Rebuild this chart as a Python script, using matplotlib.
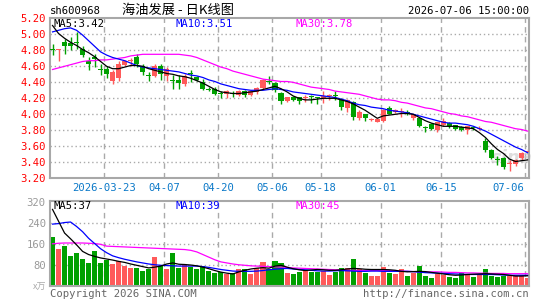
import matplotlib
matplotlib.use("Agg")
import matplotlib.pyplot as plt

# daily K-line data, 2026-03-10 .. 2026-07-06 (80 trading days)
opens = [4.80, 4.79, 4.89, 4.88, 4.89, 4.81, 4.66, 4.71, 4.55, 4.56,
         4.41, 4.45, 4.61, 4.655, 4.71, 4.59, 4.48, 4.475, 4.60, 4.475,
         4.41, 4.42, 4.37, 4.51, 4.46, 4.39, 4.30, 4.30, 4.245, 4.24,
         4.255, 4.23, 4.28, 4.23, 4.27, 4.32, 4.40, 4.38, 4.26, 4.16,
         4.21, 4.20, 4.195, 4.21, 4.20, 4.19, 4.215, 4.23, 4.17, 4.07,
         4.14, 3.94, 3.99, 3.925, 3.90, 3.91, 4.07, 4.02, 4.015, 4.01,
         3.94, 3.95, 3.825, 3.87, 3.79, 3.86, 3.88, 3.85, 3.83, 3.79,
         3.82, 3.81, 3.66, 3.55, 3.42, 3.45, 3.37, 3.37, 3.44, 3.52]
highs = [4.87, 4.81, 4.93, 4.96, 5.02, 4.84, 4.71, 4.75, 4.62, 4.60,
         4.54, 4.66, 4.67, 4.70, 4.75, 4.62, 4.52, 4.62, 4.62, 4.58,
         4.48, 4.48, 4.50, 4.54, 4.47, 4.43, 4.33, 4.33, 4.28, 4.29,
         4.28, 4.30, 4.29, 4.29, 4.33, 4.43, 4.47, 4.40, 4.27, 4.21,
         4.22, 4.21, 4.23, 4.23, 4.21, 4.28, 4.24, 4.28, 4.20, 4.18,
         4.16, 4.04, 4.00, 3.95, 3.94, 4.06, 4.09, 4.06, 4.07, 4.04,
         4.00, 3.96, 3.85, 3.88, 3.90, 3.95, 3.89, 3.86, 3.84, 3.85,
         3.85, 3.84, 3.69, 3.56, 3.47, 3.46, 3.42, 3.43, 3.52, 3.56]
lows = [4.73, 4.66, 4.74, 4.80, 4.81, 4.71, 4.54, 4.58, 4.48, 4.45,
        4.37, 4.41, 4.59, 4.60, 4.58, 4.48, 4.41, 4.46, 4.42, 4.41,
        4.31, 4.31, 4.35, 4.39, 4.41, 4.30, 4.28, 4.23, 4.20, 4.20,
        4.21, 4.22, 4.21, 4.22, 4.25, 4.31, 4.37, 4.27, 4.12, 4.15,
        4.16, 4.12, 4.15, 4.13, 4.12, 4.13, 4.17, 4.17, 4.05, 4.02,
        3.92, 3.92, 3.91, 3.91, 3.89, 3.90, 3.99, 4.01, 3.96, 3.98,
        3.92, 3.83, 3.77, 3.80, 3.77, 3.84, 3.82, 3.79, 3.78, 3.74,
        3.79, 3.79, 3.52, 3.43, 3.36, 3.31, 3.28, 3.35, 3.42, 3.49]
closes = [4.79, 4.80, 4.85, 4.84, 4.88, 4.73, 4.62, 4.68, 4.545, 4.49,
          4.52, 4.62, 4.65, 4.66, 4.62, 4.52, 4.475, 4.60, 4.50, 4.56,
          4.405, 4.38, 4.475, 4.50, 4.42, 4.31, 4.295, 4.24, 4.24, 4.28,
          4.25, 4.28, 4.23, 4.28, 4.32, 4.42, 4.395, 4.29, 4.16, 4.20,
          4.17, 4.16, 4.20, 4.205, 4.195, 4.22, 4.22, 4.225, 4.08, 4.17,
          3.96, 4.02, 3.95, 3.93, 3.93, 4.05, 4.00, 4.05, 4.02, 4.005,
          3.99, 3.85, 3.82, 3.81, 3.89, 3.91, 3.84, 3.81, 3.80, 3.84,
          3.815, 3.815, 3.55, 3.45, 3.415, 3.33, 3.38, 3.42, 3.51, 3.53]
volume = [186, 140, 150, 112, 125, 102, 86, 131, 86, 99,
          82, 93, 74, 67, 67, 54, 61, 108, 74, 61,
          125, 67, 80, 70, 63, 74, 57, 46, 51, 45,
          49, 63, 62, 45, 67, 90, 62, 93, 85, 48,
          44, 52, 57, 51, 51, 54, 39, 52, 65, 65,
          102, 61, 47, 38, 35, 70, 48, 42, 61, 35,
          48, 74, 35, 29, 42, 39, 31, 29, 48, 39,
          32, 39, 61, 35, 31, 36, 36, 36, 36, 30]

ma5 = [5.10, 5.00, 4.94, 4.89, 4.85, 4.80, 4.76, 4.71, 4.65, 4.59,
       4.56, 4.56, 4.58, 4.60, 4.60, 4.59, 4.56, 4.54, 4.52, 4.50,
       4.49, 4.47, 4.46, 4.44, 4.41, 4.38, 4.34, 4.30, 4.27, 4.26,
       4.25, 4.25, 4.26, 4.27, 4.28, 4.30, 4.32, 4.34, 4.31, 4.27,
       4.22, 4.19, 4.17, 4.17, 4.18, 4.19, 4.19, 4.19, 4.17, 4.15,
       4.12, 4.08, 4.04, 3.99, 3.94, 3.97, 3.98, 3.99, 4.00, 4.00,
       3.99, 3.95, 3.91, 3.88, 3.86, 3.84, 3.84, 3.84, 3.83, 3.82,
       3.81, 3.76, 3.70, 3.62, 3.55, 3.50, 3.43, 3.40, 3.41, 3.42]
ma10 = [5.02, 5.04, 5.06, 5.07, 5.04, 4.98, 4.91, 4.84, 4.77, 4.73,
        4.70, 4.68, 4.66, 4.63, 4.60, 4.58, 4.57, 4.56, 4.55, 4.54,
        4.53, 4.52, 4.50, 4.48, 4.47, 4.45, 4.42, 4.40, 4.37, 4.35,
        4.33, 4.31, 4.30, 4.29, 4.29, 4.29, 4.30, 4.31, 4.30, 4.29,
        4.27, 4.26, 4.25, 4.24, 4.23, 4.22, 4.21, 4.20, 4.18, 4.16,
        4.13, 4.11, 4.10, 4.08, 4.07, 4.06, 4.04, 4.03, 4.02, 4.01,
        3.99, 3.97, 3.95, 3.93, 3.91, 3.89, 3.88, 3.88, 3.87, 3.86,
        3.84, 3.81, 3.78, 3.74, 3.70, 3.66, 3.62, 3.58, 3.55, 3.51]
ma30 = [4.55, 4.57, 4.59, 4.61, 4.63, 4.65, 4.66, 4.66, 4.67, 4.67,
        4.68, 4.69, 4.70, 4.72, 4.73, 4.74, 4.74, 4.74, 4.74, 4.74,
        4.74, 4.74, 4.73, 4.72, 4.70, 4.67, 4.64, 4.61, 4.58, 4.56,
        4.53, 4.51, 4.49, 4.47, 4.45, 4.43, 4.42, 4.41, 4.40, 4.40,
        4.39, 4.37, 4.35, 4.33, 4.32, 4.31, 4.30, 4.28, 4.27, 4.26,
        4.25, 4.24, 4.22, 4.20, 4.18, 4.17, 4.17, 4.16, 4.14, 4.13,
        4.11, 4.09, 4.07, 4.06, 4.04, 4.02, 4.00, 3.99, 3.97, 3.96,
        3.94, 3.92, 3.90, 3.89, 3.87, 3.85, 3.83, 3.81, 3.80, 3.78]

vma5 = [290, 245, 200, 178, 155, 130, 118, 111, 105, 101,
        97, 92, 88, 82, 77, 72, 67, 70, 74, 82,
        86, 81, 80, 78, 75, 70, 64, 57, 51, 47,
        44, 52, 58, 63, 66, 68, 66, 74, 77, 70,
        64, 60, 57, 59, 61, 60, 58, 58, 60, 63,
        65, 64, 62, 61, 61, 61, 60, 58, 54, 52,
        53, 54, 53, 50, 47, 44, 41, 39, 40, 42,
        43, 44, 45, 44, 43, 42, 39, 36, 36, 37]
vma10 = [234, 236, 240, 242, 225, 205, 180, 160, 140, 125,
         113, 106, 100, 95, 90, 86, 82, 79, 77, 76,
         75, 74, 74, 74, 74, 72, 69, 65, 61, 58,
         55, 54, 54, 54, 55, 57, 60, 62, 64, 65,
         63, 61, 60, 58, 56, 55, 55, 56, 57, 56,
         55, 54, 54, 55, 55, 54, 54, 54, 54, 54,
         53, 51, 49, 48, 47, 46, 45, 44, 43, 42,
         42, 42, 42, 42, 41, 40, 39, 39, 39, 39]
vma30 = [159, 161, 162, 162, 162, 162, 161, 160, 157, 150,
         149, 148, 147, 146, 145, 144, 143, 142, 141, 140,
         139, 138, 137, 134, 128, 118, 108, 98, 90, 86,
         82, 79, 77, 75, 74, 73, 72, 71, 70, 69,
         67, 66, 65, 64, 63, 62, 61, 60, 59, 58,
         58, 57, 57, 57, 57, 57, 57, 56, 55, 54,
         53, 52, 52, 52, 52, 51, 50, 50, 49, 48,
         48, 47, 47, 46, 46, 46, 45, 45, 45, 45]

tick_idx = [9, 19, 28, 37, 45, 55, 65, 79]
tick_labels = ["2026-03-23", "04-07", "04-20", "05-06", "05-18", "06-01", "06-15", "07-06"]
price_ticks = [3.20, 3.40, 3.60, 3.80, 4.00, 4.20, 4.40, 4.60, 4.80, 5.00, 5.20]
vol_ticks = [80, 160, 240, 320]

RED = "#ff5a5a"
GREEN = "#00a000"
GRID = "#aaaaaa"
FRAME = "#a8a8a8"
MONO = "DejaVu Sans Mono"

W, H = 545, 300
fig = plt.figure(figsize=(W / 100, H / 100), dpi=100)


def px_axes(left, top, right, bottom):
    return fig.add_axes([left / W, 1 - bottom / H, (right - left) / W, (bottom - top) / H])


def fig_text(x, y, s, **kw):
    fig.text(x / W, 1 - y / H, s, **kw)


xs = [i + 0.42 for i in range(len(closes))]
XMAX = 79.66

# ---- price panel
ax = px_axes(50, 17.5, 529, 177.5)
ax.set_xlim(0, XMAX)
ax.set_ylim(3.2, 5.2)
for p in price_ticks[1:-1]:
    ax.axhline(p, color=GRID, lw=1, ls=(0, (1, 2)), zorder=0)
for t in tick_idx:
    ax.axvline(t, color=GRID, lw=1, ls=(0, (4, 3)), zorder=0)

for x, o, h, l, c in zip(xs, opens, highs, lows, closes):
    col = RED if c > o else GREEN
    ax.vlines(x, l, h, color=col, lw=1, zorder=2)
    ax.bar(x, max(abs(c - o), 0.012), bottom=min(o, c), width=0.84, color=col, lw=0, zorder=3)

ax.plot(xs, ma30, color="#ff00ff", lw=0.9, zorder=4)
ax.plot(xs, ma10, color="#0000ff", lw=0.9, zorder=4)
ax.plot(xs, ma5, color="black", lw=0.9, zorder=4)

ax.set_yticks(price_ticks)
ax.set_yticklabels(["%.2f" % p for p in price_ticks], color="#ff0000", family=MONO, fontsize=7.6)
ax.set_xticks(tick_idx)
ax.set_xticklabels([])
ax.tick_params(length=0, pad=3)
for s in ax.spines.values():
    s.set_color(FRAME)
    s.set_linewidth(1.5)
ax.text(0.92, 0.12, "sina", transform=ax.transAxes, color="#c8c8c8", fontsize=13,
        style="italic", weight="bold", ha="left", va="center", alpha=0.6, zorder=1)

# ---- volume panel
vx = px_axes(50, 200.5, 529, 285.5)
vx.set_xlim(0, XMAX)
vx.set_ylim(0, 324)
for v in vol_ticks[:-1]:
    vx.axhline(v, color=GRID, lw=1, ls=(0, (1, 2)), zorder=0)
for t in tick_idx:
    vx.axvline(t, color=GRID, lw=1, ls=(0, (4, 3)), zorder=0)
vcols = [RED if c > o else GREEN for o, c in zip(opens, closes)]
vx.bar(xs, volume, width=0.84, color=vcols, lw=0, zorder=2)
vx.plot(xs, vma30, color="#ff00ff", lw=0.9, zorder=4)
vx.plot(xs, vma10, color="#0000ff", lw=0.9, zorder=4)
vx.plot(xs, vma5, color="black", lw=0.9, zorder=4)
vx.set_yticks(vol_ticks)
vx.set_yticklabels([str(v) for v in vol_ticks], color="#999999", family=MONO, fontsize=7.6)
vx.set_xticks([])
vx.tick_params(length=0, pad=3)
for s in vx.spines.values():
    s.set_color(FRAME)
    s.set_linewidth(1.5)

# date labels under the price panel
for t, lab in zip(tick_idx, tick_labels):
    if t == tick_idx[-1]:
        fig_text(50 + t * 6.014 - 1, 188, lab, color="#0a78c8", family=MONO, fontsize=7.6,
                 ha="right", va="center")
    else:
        fig_text(50 + t * 6.014, 188, lab, color="#0a78c8", family=MONO, fontsize=7.6,
                 ha="center", va="center")

# header texts
fig_text(50, 11, "sh600968", family=MONO, fontsize=7.6, va="center")
fig_text(178, 10, "海油发展 - 日K线图", family=["Noto Sans CJK SC", "DejaVu Sans"],
         fontsize=9.5, ha="center", va="center")
fig_text(529, 11, "2026-07-06 15:00:00", family=MONO, fontsize=7.6, ha="right", va="center")

fig_text(54, 24, "MA5:%.2f" % ma5[-1], family=MONO, fontsize=7.6, va="center")
fig_text(175, 24, "MA10:%.2f" % ma10[-1], color="#0000ff", family=MONO, fontsize=7.6, va="center")
fig_text(295, 24, "MA30:%.2f" % ma30[-1], color="#ff00ff", family=MONO, fontsize=7.6, va="center")

fig_text(54, 206, "MA5:%d" % vma5[-1], family=MONO, fontsize=7.6, va="center")
fig_text(175, 206, "MA10:%d" % vma10[-1], color="#0000ff", family=MONO, fontsize=7.6, va="center")
fig_text(295, 206, "MA30:%d" % vma30[-1], color="#ff00ff", family=MONO, fontsize=7.6, va="center")

fig_text(46, 287, "x万", color="#aaaaaa", family=["Noto Sans CJK SC", "DejaVu Sans"],
         fontsize=6.5, ha="right", va="center", style="italic")
fig_text(50, 294, "Copyright 2026 SINA.COM", color="#666666", family=MONO, fontsize=7.6, va="center")
fig_text(529, 294, "http://finance.sina.com.cn", color="#666666", family=MONO, fontsize=7.6,
         ha="right", va="center")

fig.savefig("out.png", dpi=100)
